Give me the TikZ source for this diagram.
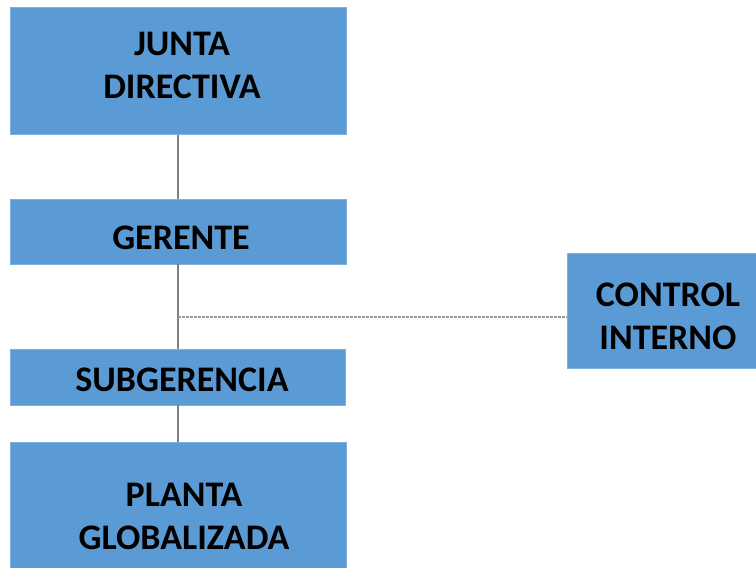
\documentclass[tikz,border=0pt]{standalone}
\usepackage{fontspec}
\setmainfont{Carlito}
\definecolor{boxblue}{HTML}{5B9BD5}
\definecolor{boxedge}{HTML}{7FB0DE}
\definecolor{linegray}{HTML}{7F7F7F}
\tikzset{
  orgbox/.style={fill=boxblue, draw=boxedge, line width=0.6pt, inner sep=0pt},
  orgtext/.style={align=center, font=\fontsize{36}{43}\selectfont\bfseries, text=black, inner sep=0pt},
  link/.style={draw=linegray, line width=1.2pt},
  dotlink/.style={draw=linegray!80, line width=1.4pt, dash pattern=on 2.5pt off 1.5pt}
}
\begin{document}
\begin{tikzpicture}[x=1pt,y=-1pt]
\useasboundingbox (0,0) rectangle (756,568);
\clip (0,0) rectangle (756,568);
\fill[white] (0,0) rectangle (756,568);
\node[orgbox, minimum width=336pt, minimum height=127pt] (junta) at (178,71) {};
\node[orgbox, minimum width=336pt, minimum height=65pt] (gerente) at (178,231.5) {};
\node[orgbox, minimum width=335pt, minimum height=56pt] (sub) at (178,377) {};
\node[orgbox, minimum width=336pt, minimum height=148pt] (planta) at (178,516) {};
\node[orgbox, minimum width=202pt, minimum height=115pt] (control) at (668,310.5) {};
\node[orgtext] (tjunta) at (182,65.5) {JUNTA\\DIRECTIVA};
\node[orgtext] (tgerente) at (181,238) {GERENTE};
\node[orgtext] (tsub) at (182,380) {SUBGERENCIA};
\node[orgtext] (tplanta) at (184,516.5) {PLANTA\\GLOBALIZADA};
\node[orgtext] (tcontrol) at (668,316) {CONTROL\\INTERNO};
\coordinate (tap) at (178,317);
\draw[link] (junta.south) -- (gerente.north);
\draw[link] (gerente.south) -- (sub.north);
\draw[link] (sub.south) -- (planta.north);
\draw[dotlink] (tap) -- (tap -| control.west);
\end{tikzpicture}
\end{document}
